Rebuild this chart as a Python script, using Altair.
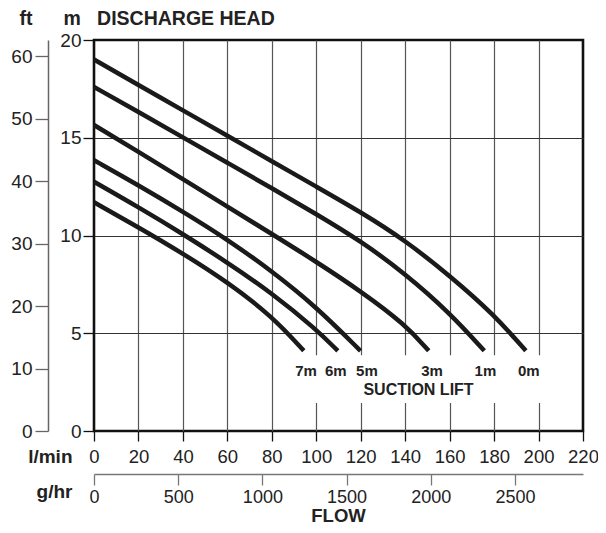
import altair as alt
import pandas as pd

FONT = "Liberation Sans"

# ---- data ----
series_names = ["0m", "1m", "3m", "5m", "6m", "7m"]
flow_0m = [0, 20, 40, 60, 80, 100, 120, 140, 160, 180, 194.3]
head_0m = [19.0, 17.7, 16.4, 15.1, 13.8, 12.5, 11.2, 9.75, 7.95, 5.95, 4.1]
flow_1m = [0, 20, 40, 60, 80, 100, 120, 140, 160, 175.6]
head_1m = [17.6, 16.32, 15.02, 13.72, 12.42, 11.1, 9.72, 8.05, 6.05, 4.1]
flow_3m = [0, 20, 40, 60, 80, 100, 120, 140, 150.6]
head_3m = [15.65, 14.28, 12.88, 11.48, 10.08, 8.66, 7.15, 5.45, 4.1]
flow_5m = [0, 20, 40, 60, 80, 100, 119.9]
head_5m = [13.85, 12.57, 11.22, 9.8, 8.18, 6.35, 4.1]
flow_6m = [0, 20, 40, 60, 80, 100, 109.7]
head_6m = [12.75, 11.45, 10.08, 8.62, 7.06, 5.2, 4.1]
flow_7m = [0, 20, 40, 60, 80, 94.4]
head_7m = [11.7, 10.42, 9.08, 7.62, 5.88, 4.1]

flows = [flow_0m, flow_1m, flow_3m, flow_5m, flow_6m, flow_7m]
heads = [head_0m, head_1m, head_3m, head_5m, head_6m, head_7m]

# curve labels (suction lift) under each curve end
label_text = ["0m", "1m", "3m", "5m", "6m", "7m"]
label_flow = [195.6, 176.1, 152.1, 122.8, 108.8, 95.4]
label_head = [3.06, 3.06, 3.06, 3.06, 3.06, 3.06]

note_text = ["SUCTION LIFT"]
note_flow = [146]
note_head = [2.12]

flow_ticks = [0, 20, 40, 60, 80, 100, 120, 140, 160, 180, 200, 220]
gal_ticks = [0, 500, 1000, 1500, 2000, 2500]
m_ticks = [0, 5, 10, 15, 20]
ft_ticks = [0, 10, 20, 30, 40, 50, 60]

LPM_TO_GPH = 13.2  # imperial gallons per hour in one litre per minute

# ---- tables ----
rows = []
for name, fl, hd in zip(series_names, flows, heads):
    for i, (f, h) in enumerate(zip(fl, hd)):
        rows.append({"lift": name, "flow": f, "head": h, "i": i})
df = pd.DataFrame(rows)
label_df = pd.DataFrame({"flow": label_flow, "head": label_head, "text": label_text})
note_df = pd.DataFrame({"flow": note_flow, "head": note_head, "text": note_text})
box_df = pd.DataFrame({"x1": [86], "x2": [208], "y1": [1.43], "y2": [3.88]})

xs = alt.Scale(domain=[0, 220], nice=False, zero=False)
ys = alt.Scale(domain=[0, 20], nice=False, zero=False)

x_axis = alt.Axis(
    values=flow_ticks, title="l/min", orient="bottom",
    grid=True, gridColor="#555", gridWidth=1.2,
    gridOpacity=alt.condition("datum.value === 0 || datum.value === 220", alt.value(0), alt.value(1)),
    domain=False, tickColor="#111", tickSize=10, tickWidth=1.3,
    labelFont=FONT, labelFontSize=18.5, labelColor="#222",
    labelBaseline="alphabetic", labelPadding=21, labelFlush=False, labelOverlap=False,
    titleAngle=0, titleAlign="right", titleBaseline="alphabetic", titleX=-22, titleY=31,
    titleFont=FONT, titleFontSize=19, titleFontWeight="bold", titleColor="#222",
)
y_axis = alt.Axis(
    values=m_ticks, title="m\u00a0\u00a0\u00a0DISCHARGE HEAD", orient="left",
    grid=True, gridColor="#333", gridWidth=1.2,
    gridOpacity=alt.condition("datum.value === 0 || datum.value === 20", alt.value(0), alt.value(1)),
    domain=False, tickColor="#111", tickSize=11, tickWidth=1.3,
    labelFont=FONT, labelFontSize=19, labelColor="#222", labelPadding=2,
    labelFlush=False, labelOverlap=False,
    titleAngle=0, titleAlign="left", titleBaseline="middle", titleX=-31, titleY=-22,
    titleFont=FONT, titleFontSize=19.5, titleFontWeight="bold", titleColor="#222",
)

box = alt.Chart(box_df).mark_rect(fill="white").encode(
    x=alt.X("x1:Q", scale=xs, axis=x_axis), x2="x2:Q",
    y=alt.Y("y1:Q", scale=ys, axis=y_axis), y2="y2:Q",
)
lines = alt.Chart(df).mark_line(
    strokeWidth=4.5, color="#1a1a1a", interpolate="basis", strokeCap="butt"
).encode(
    x=alt.X("flow:Q", scale=xs, axis=x_axis),
    y=alt.Y("head:Q", scale=ys, axis=y_axis),
    detail="lift:N",
    order="i:Q",
)
labels = alt.Chart(label_df).mark_text(
    font=FONT, fontSize=15, fontWeight="bold", color="#222"
).encode(
    x=alt.X("flow:Q", scale=xs, axis=x_axis),
    y=alt.Y("head:Q", scale=ys, axis=y_axis),
    text="text:N",
)
note = alt.Chart(note_df).mark_text(
    font=FONT, fontSize=16, fontWeight="bold", color="#222"
).encode(
    x=alt.X("flow:Q", scale=xs, axis=x_axis),
    y=alt.Y("head:Q", scale=ys, axis=y_axis),
    text="text:N",
)
main = alt.layer(box, lines, labels, note)

gal_axis = alt.Axis(
    values=gal_ticks, title="g/hr", orient="bottom", offset=43, format="d",
    grid=False, domain=True, domainColor="#777", domainWidth=1.3,
    tickColor="#777", tickSize=11, tickWidth=1.3,
    labelFont=FONT, labelFontSize=18, labelColor="#222",
    labelBaseline="alphabetic", labelPadding=17, labelFlush=False, labelOverlap=False,
    titleAngle=0, titleAlign="right", titleBaseline="alphabetic", titleX=-22, titleY=23,
    titleFont=FONT, titleFontSize=19, titleFontWeight="bold", titleColor="#222",
)
gal_layer = alt.Chart(pd.DataFrame({"gal": gal_ticks})).mark_point(opacity=0).encode(
    x=alt.X("gal:Q", scale=alt.Scale(domain=[0, 220 * LPM_TO_GPH], nice=False, zero=False), axis=gal_axis)
)

ft_axis = alt.Axis(
    values=ft_ticks, title="ft", orient="left", offset=46,
    grid=False, domain=True, domainColor="#666", domainWidth=1.5,
    tickColor="#666", tickSize=13, tickWidth=1.3,
    labelFont=FONT, labelFontSize=19, labelColor="#222", labelPadding=3,
    labelFlush=False, labelOverlap=False,
    titleAngle=0, titleAlign="center", titleBaseline="middle", titleX=-22.5, titleY=-22,
    titleFont=FONT, titleFontSize=19.5, titleFontWeight="bold", titleColor="#222",
)
ft_layer = alt.Chart(pd.DataFrame({"ft": ft_ticks})).mark_point(opacity=0).encode(
    y=alt.Y("ft:Q", scale=alt.Scale(domain=[0, 62.6], nice=False, zero=False), axis=ft_axis)
)

chart = alt.layer(main, gal_layer, ft_layer).resolve_scale(
    x="independent", y="independent"
).properties(
    width=489, height=391,
    autosize=alt.AutoSizeParams(type="none"),
    padding={"left": 86, "top": 32, "right": 15, "bottom": 94},
    title=alt.TitleParams("FLOW", orient="bottom", anchor="middle", frame="group",
                          font=FONT, fontSize=18.5, fontWeight="bold", color="#222",
                          offset=16, baseline="alphabetic"),
    background="white",
).configure_view(stroke="#111", strokeWidth=2.6)

chart.save("out.html", embed_options={"renderer": "svg", "actions": False})
